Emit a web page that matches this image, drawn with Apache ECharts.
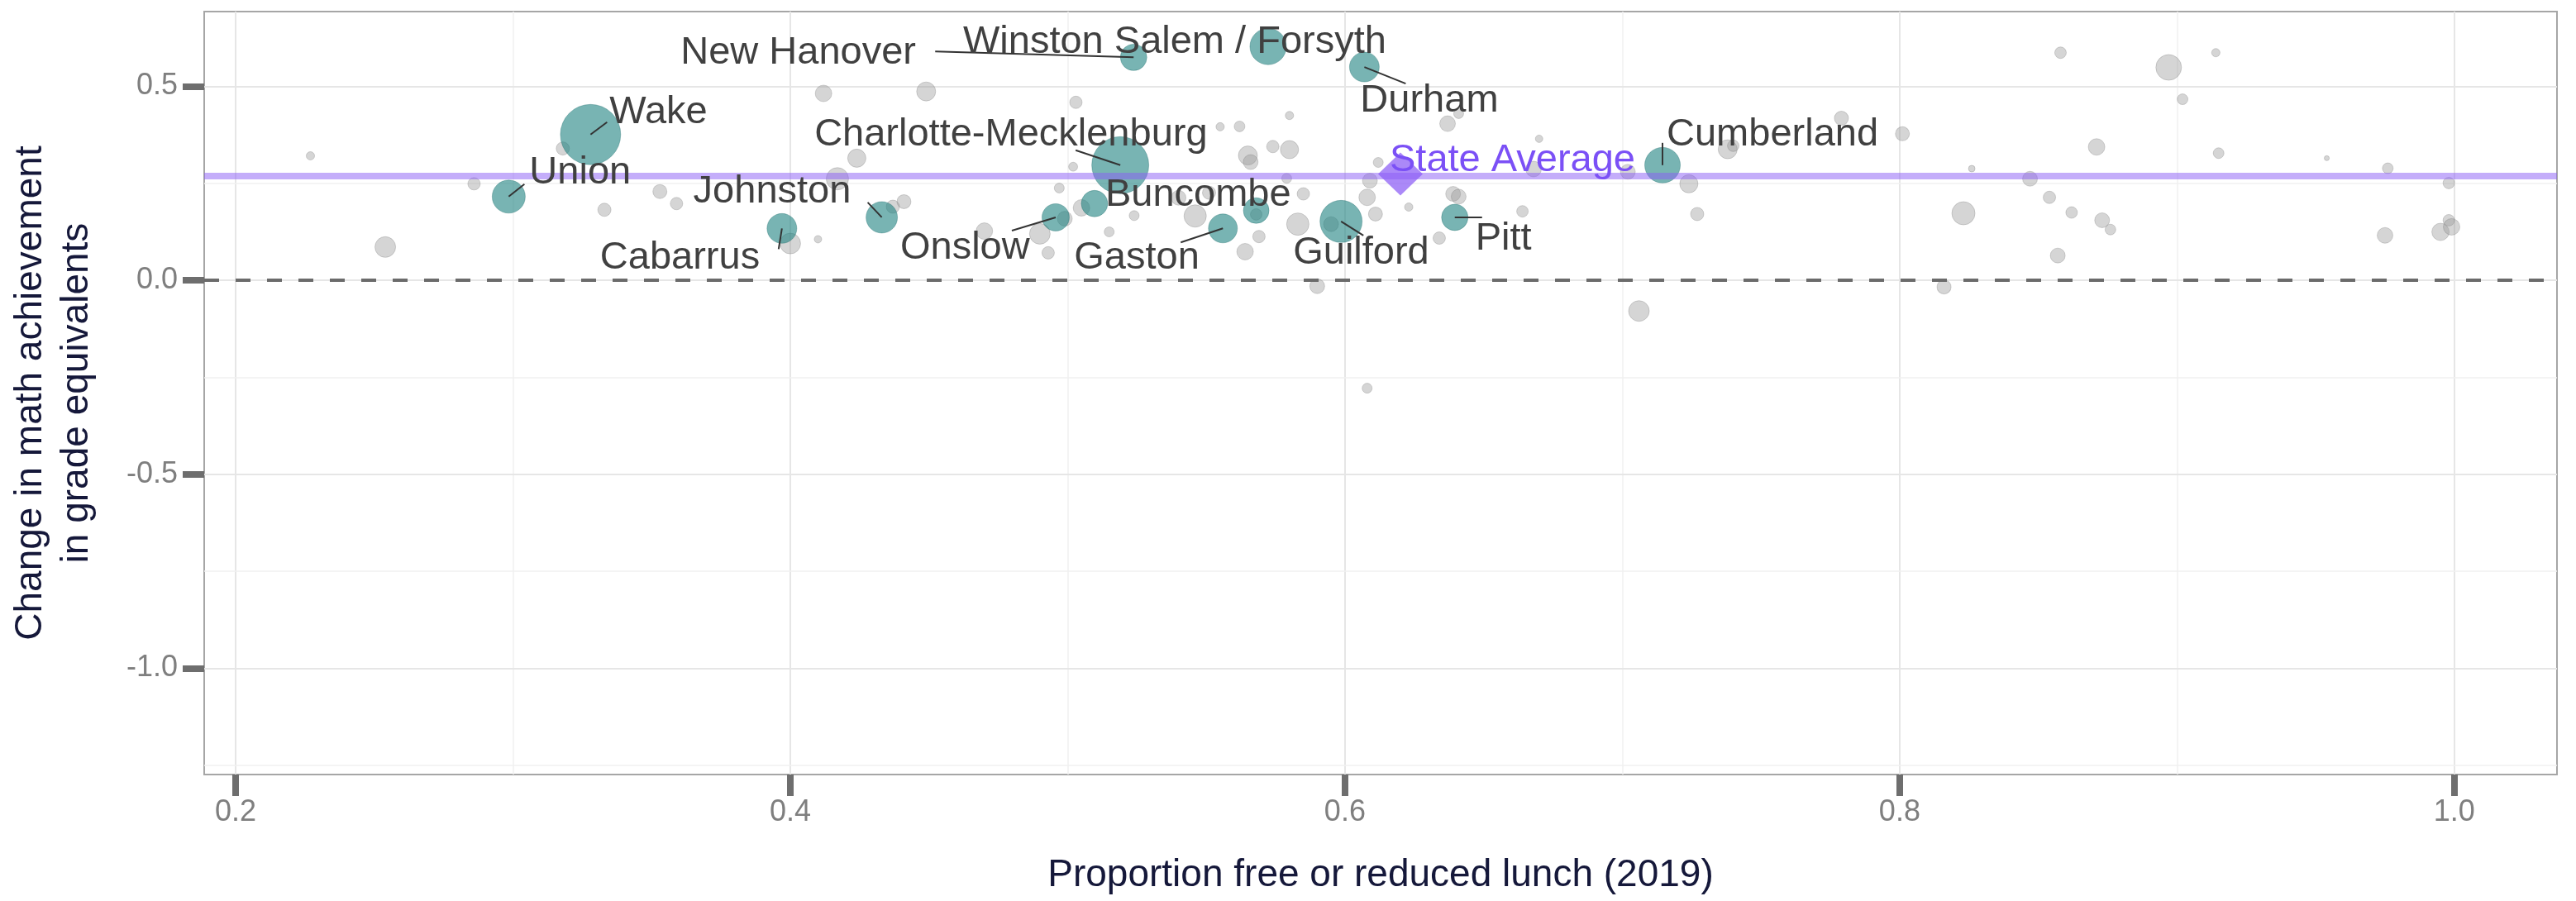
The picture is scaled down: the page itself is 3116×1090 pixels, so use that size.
<!DOCTYPE html>
<html>
<head>
<meta charset="utf-8">
<title>Change in math achievement vs free or reduced lunch</title>
<script src="https://cdn.jsdelivr.net/npm/echarts/dist/echarts.min.js"></script>
<style>
html,body{margin:0;padding:0;background:#fff;}
#chart{width:3116px;height:1090px;}
</style>
</head>
<body>
<div id="chart"></div>
<script>
// largest districts (teal)
var bigNames = ['Wake', 'Union', 'Cabarrus', 'Johnston', 'Onslow', 'Buncombe', 'Charlotte-Mecklenburg', 'Gaston',
    'Iredell-Statesville', 'Guilford', 'New Hanover', 'Winston Salem / Forsyth', 'Durham', 'Pitt', 'Cumberland'];
var bigFrl    = [0.328, 0.2985, 0.397, 0.433, 0.4957, 0.5097, 0.519, 0.556, 0.568, 0.5986, 0.5238, 0.5723, 0.607, 0.6396, 0.7145];
var bigChange = [0.376, 0.216, 0.134, 0.1625, 0.1625, 0.198, 0.297, 0.134, 0.180, 0.152, 0.575, 0.603, 0.550, 0.1625, 0.297];
var bigEnroll = [158, 47.6, 38.5, 42.9, 32.4, 30.4, 141.5, 36.4, 28.6, 77.3, 30.4, 57.5, 38.5, 30.4, 55]; // thousands

// all other districts (grey)
var otherFrl = [0.227, 0.318, 0.286, 0.254, 0.333, 0.353, 0.359, 0.412, 0.400, 0.410, 0.424, 0.417, 0.449, 0.441, 0.503,
    0.502, 0.497, 0.505, 0.490, 0.470, 0.493, 0.515, 0.524, 0.546, 0.569, 0.564, 0.583, 0.585, 0.590, 0.580,
    0.574, 0.565, 0.566, 0.562, 0.555, 0.580, 0.609, 0.608, 0.611, 0.612, 0.623, 0.634, 0.637, 0.641, 0.639,
    0.641, 0.668, 0.670, 0.664, 0.702, 0.724, 0.727, 0.706, 0.738, 0.740, 0.779, 0.801, 0.823, 0.826, 0.816,
    0.847, 0.858, 0.854, 0.862, 0.857, 0.871, 0.914, 0.897, 0.902, 0.915, 0.873, 0.876, 0.954, 0.976, 0.975,
    0.998, 0.998, 0.995, 0.999, 0.608, 0.579, 0.499, 0.540, 0.551, 0.568, 0.437, 0.595];
var otherChange = [0.321, 0.340, 0.249, 0.086, 0.182, 0.229, 0.198, 0.482, 0.095, 0.106, 0.315, 0.262, 0.487, 0.203, 0.459,
    0.293, 0.238, 0.187, 0.120, 0.127, 0.071, 0.125, 0.167, 0.166, 0.113, 0.074, 0.145, 0.223, -0.015, 0.337,
    0.345, 0.322, 0.305, 0.397, 0.396, 0.425, 0.257, 0.214, 0.171, 0.304, 0.189, 0.109, 0.404, 0.430, 0.223,
    0.216, 0.287, 0.365, 0.178, 0.280, 0.249, 0.171, -0.079, 0.338, 0.347, 0.418, 0.378, 0.173, 0.288, -0.017,
    0.262, 0.587, 0.214, 0.175, 0.064, 0.344, 0.587, 0.549, 0.467, 0.328, 0.155, 0.131, 0.315, 0.289, 0.116,
    0.251, 0.155, 0.125, 0.138, -0.278, 0.263, 0.159, 0.213, 0.226, 0.170, 0.190, 0.145];
var otherEnroll = [3.0, 7.6, 6.7, 18.6, 7.6, 8.6, 6.7, 11.9, 18.6, 2.4, 14.4, 21.7, 15.7, 8.6, 6.7,
    3.5, 4.3, 11.9, 18.6, 11.9, 6.7, 4.3, 4.3, 21.7, 6.7, 11.9, 21.7, 6.7, 9.6, 14.4,
    6.7, 15.7, 9.6, 5.0, 3.0, 3.0, 9.6, 11.9, 8.6, 4.3, 3.0, 6.7, 10.7, 4.3, 9.6,
    9.6, 10.7, 2.4, 5.8, 9.6, 14.4, 7.6, 18.6, 15.7, 5.8, 8.6, 8.6, 23.3, 1.9, 8.6,
    9.6, 5.8, 6.7, 5.8, 9.6, 11.9, 3.0, 28.6, 5.0, 5.0, 9.6, 5.0, 1.1, 5.0, 10.7,
    5.8, 5.8, 13.1, 11.9, 4.3, 4.3, 9.6, 9.6, 7.6, 5.8, 7.6, 9.6];

var stateFrl = 0.62;
var stateChange = 0.274;

var xTicks = [0.2, 0.4, 0.6, 0.8, 1.0];
var xMinor = [0.3, 0.5, 0.7, 0.9];
var yTicks = [-1.0, -0.5, 0, 0.5];
var yMinor = [-1.25, -0.75, -0.25, 0.25];

// text offset from the point (px) and leader end, as placed in the original
var labelPos = {
    'Wake': [23, -27, 20, -15],
    'Union': [25, -29, 19, -15],
    'Cabarrus': [-220, 36, -4, 25],
    'Johnston': [-228, -31, -17, -18],
    'Onslow': [-188, 37, -53, 16],
    'Buncombe': [13, -10],
    'Charlotte-Mecklenburg': [-370, -37, -54, -18],
    'Gaston': [-180, 36, -51, 17],
    'Guilford': [-58, 38, 27, 17],
    'New Hanover': [-548, -5, -240, -7],
    'Winston Salem / Forsyth': [-369, -5],
    'Durham': [-5, 41, 50, 20],
    'Pitt': [25, 26, 33, 0],
    'Cumberland': [5, -37, 0, -27]
};

var font = "'Liberation Sans', Arial, Helvetica, sans-serif";

function bubble(v) {
    return 5.8 * Math.sqrt(v[2]);
}

var otherData = otherFrl.map(function (x, i) { return [x, otherChange[i], otherEnroll[i]]; });
var bigData = bigFrl.map(function (x, i) { return [x, bigChange[i], bigEnroll[i], bigNames[i]]; });

var gridLines = [];
xTicks.forEach(function (v) { gridLines.push({xAxis: v, lineStyle: {color: '#e6e6e6', width: 2, type: 'solid'}}); });
xMinor.forEach(function (v) { gridLines.push({xAxis: v, lineStyle: {color: '#f1f1f1', width: 1.5, type: 'solid'}}); });
yTicks.forEach(function (v) { gridLines.push({yAxis: v, lineStyle: {color: '#e6e6e6', width: 2, type: 'solid'}}); });
yMinor.forEach(function (v) { gridLines.push({yAxis: v, lineStyle: {color: '#f1f1f1', width: 1.5, type: 'solid'}}); });

var chart = echarts.init(document.getElementById('chart'));
var option = {
    animation: false,
    backgroundColor: '#ffffff',
    grid: {left: 247, right: 23, top: 14, bottom: 153, show: true, borderColor: '#a6a6a6', borderWidth: 2},
    xAxis: {
        type: 'value', min: 0.1887, max: 1.037, splitNumber: 5,
        axisLine: {show: false, onZero: false},
        splitLine: {show: false},
        axisTick: {show: true, customValues: xTicks, length: 26, lineStyle: {color: '#6e6e6e', width: 8}},
        axisLabel: {customValues: xTicks, margin: 28, fontSize: 36, color: '#7f7f7f', fontFamily: font,
            formatter: function (v) { return v.toFixed(1); }},
        name: 'Proportion free or reduced lunch (2019)',
        nameLocation: 'middle', nameGap: 99,
        nameTextStyle: {fontSize: 46, color: '#15183a', fontFamily: font}
    },
    yAxis: {
        type: 'value', min: -1.274, max: 0.693, splitNumber: 4,
        axisLine: {show: false, onZero: false},
        splitLine: {show: false},
        axisTick: {show: true, customValues: yTicks, length: 26, lineStyle: {color: '#6e6e6e', width: 8}},
        axisLabel: {customValues: yTicks, margin: 32, fontSize: 36, color: '#7f7f7f', fontFamily: font,
            formatter: function (v) { return v.toFixed(1); }},
        name: 'Change in math achievement\nin grade equivalents',
        nameLocation: 'middle', nameRotate: 90, nameGap: 126,
        nameTextStyle: {fontSize: 46, lineHeight: 56, color: '#15183a', fontFamily: font, align: 'center'}
    },
    series: [
        {
            name: 'other', type: 'scatter', z: 2,
            data: otherData, symbolSize: bubble,
            itemStyle: {color: 'rgba(150,150,150,0.5)', borderColor: 'rgba(110,110,110,0.35)', borderWidth: 1},
            markLine: {z: 1, silent: true, symbol: ['none', 'none'], label: {show: false}, data: gridLines}
        },
        {
            name: 'largest', type: 'scatter', z: 3,
            data: bigData, symbolSize: bubble,
            itemStyle: {color: 'rgba(30,130,128,0.75)', borderColor: 'rgba(20,100,98,0.4)', borderWidth: 1},
            markLine: {
                z: 5, silent: true, symbol: ['none', 'none'], label: {show: false},
                data: [
                    {yAxis: 0, lineStyle: {color: '#6b6b6b', width: 4, type: [18, 20]}},
                    {yAxis: stateChange, lineStyle: {color: 'rgba(138,92,245,0.5)', width: 8, type: 'solid'}}
                ]
            }
        },
        {
            name: 'State Average', type: 'scatter', z: 6,
            data: [[stateFrl, stateChange]],
            symbol: 'diamond', symbolSize: [54, 52],
            itemStyle: {color: 'rgba(138,92,245,0.9)'}
        }
    ]
};
chart.setOption(option);

// repelled labels with their leader lines
var g = [];
bigNames.forEach(function (n, i) {
    var p = labelPos[n];
    if (!p) return;
    var c = chart.convertToPixel({gridIndex: 0}, [bigFrl[i], bigChange[i]]);
    if (p.length > 2) {
        g.push({type: 'line', z: 50, silent: true,
            shape: {x1: c[0], y1: c[1], x2: c[0] + p[2], y2: c[1] + p[3]},
            style: {stroke: '#333333', lineWidth: 2}});
    }
    g.push({type: 'text', z: 60, silent: true, x: c[0] + p[0], y: c[1] + p[1],
        style: {text: n, fontSize: 47, fontFamily: font, fill: '#404040',
            align: 'left', verticalAlign: 'middle', textAlign: 'left', textVerticalAlign: 'middle'}});
});
var s = chart.convertToPixel({gridIndex: 0}, [stateFrl, stateChange]);
g.push({type: 'text', z: 60, silent: true, x: s[0] - 13, y: s[1] - 17,
    style: {text: 'State Average', fontSize: 47, fontFamily: font, fill: '#7b50f6',
        align: 'left', verticalAlign: 'middle', textAlign: 'left', textVerticalAlign: 'middle'}});
chart.setOption({graphic: g});
</script>
</body>
</html>
